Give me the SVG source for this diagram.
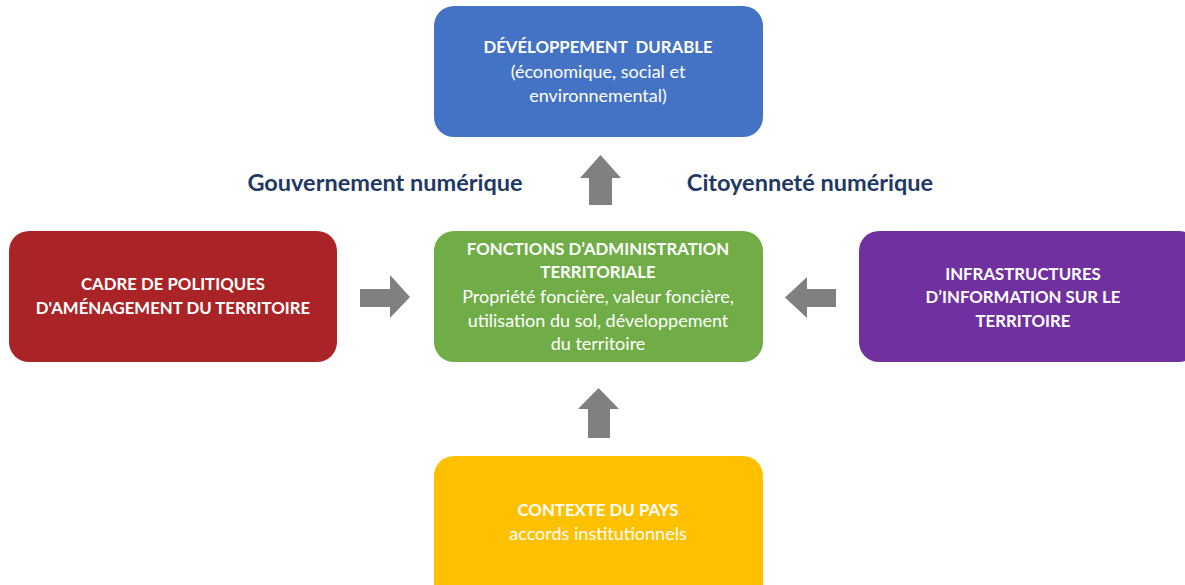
<svg xmlns="http://www.w3.org/2000/svg" width="1185" height="585" viewBox="0 0 1185 585">
<style>
.box{stroke:none}
.t{font-family:Lato,"Open Sans","Liberation Sans",sans-serif;fill:#ffffff;text-anchor:middle;font-size:18px}
.b{font-weight:bold;font-size:16.8px}
.lbl{font-family:Lato,"Open Sans","Liberation Sans",sans-serif;fill:#1F3864;font-weight:bold;font-size:23.5px;text-anchor:middle}
.arr{fill:#808080}
</style>
<rect width="1185" height="585" fill="#ffffff"/>
<g id="dev-durable">
<rect class="box" x="434" y="6" width="329" height="131" rx="20" fill="#4472C4"/>
<text class="t b" x="598" y="53" xml:space="preserve">DÉVÉLOPPEMENT  DURABLE</text>
<text class="t" x="598" y="78">(économique, social et</text>
<text class="t" x="598" y="102">environnemental)</text>
</g>
<g id="fonctions">
<rect class="box" x="434" y="231" width="329" height="131" rx="20" fill="#70AD47"/>
<text class="t b" x="598" y="255">FONCTIONS D’ADMINISTRATION</text>
<text class="t b" x="598" y="278">TERRITORIALE</text>
<text class="t" x="598" y="303">Propriété foncière, valeur foncière,</text>
<text class="t" x="598" y="327">utilisation du sol, développement</text>
<text class="t" x="598" y="350">du territoire</text>
</g>
<g id="cadre">
<rect class="box" x="9" y="231" width="328" height="131" rx="20" fill="#AA2427"/>
<text class="t b" x="173" y="290">CADRE DE POLITIQUES</text>
<text class="t b" x="173" y="314">D'AMÉNAGEMENT DU TERRITOIRE</text>
</g>
<g id="infrastructures">
<rect class="box" x="859" y="231" width="340" height="131" rx="20" fill="#7030A0"/>
<text class="t b" x="1023" y="280">INFRASTRUCTURES</text>
<text class="t b" x="1023" y="303">D’INFORMATION SUR LE</text>
<text class="t b" x="1023" y="327">TERRITOIRE</text>
</g>
<g id="contexte">
<rect class="box" x="434" y="456" width="329" height="150" rx="20" fill="#FFC000"/>
<text class="t b" x="598" y="516">CONTEXTE DU PAYS</text>
<text class="t" x="598" y="540">accords institutionnels</text>
</g>
<g id="labels">
<text class="lbl" x="385" y="191">Gouvernement numérique</text>
<text class="lbl" x="810" y="191">Citoyenneté numérique</text>
</g>
<g id="connectors">
<polygon class="arr" points="589,205 612,205 612,178 621,178 600.5,155 580,178 589,178"/>
<polygon class="arr" points="588,438 610,438 610,409 619,409 598.5,388 578,409 588,409"/>
<polygon class="arr" points="360,289 390,289 390,275 410,297 390,318 390,307 360,307"/>
<polygon class="arr" points="836,289 807,289 807,277 785,297.5 807,318 807,307 836,307"/>
</g>
</svg>
